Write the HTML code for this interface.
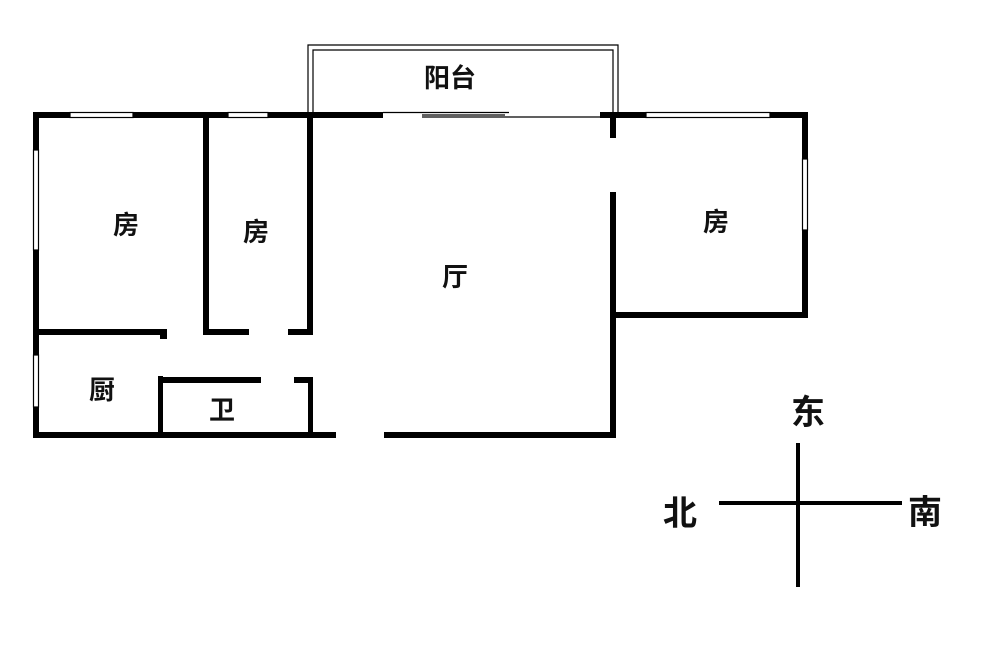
<!DOCTYPE html>
<html><head><meta charset="utf-8"><style>
html,body{margin:0;padding:0;background:#fff;}
svg{display:block;}
text{font-family:"Liberation Sans","Noto Sans CJK SC",sans-serif;fill:#111;text-anchor:middle;dominant-baseline:central;font-weight:bold;}
</style></head><body>
<svg width="1000" height="669" viewBox="0 0 1000 669">
<rect width="1000" height="669" fill="#fff"/>
<g fill="#000">
<rect x="33" y="112" width="350" height="6"/>
<rect x="600" y="112" width="207" height="6"/>
<rect x="610" y="112" width="6" height="26"/>
<rect x="33" y="112" width="6" height="326"/>
<rect x="203" y="112" width="6" height="223"/>
<rect x="307" y="112" width="6" height="223"/>
<rect x="33" y="329" width="134" height="6"/>
<rect x="160" y="329" width="7" height="10"/>
<rect x="203" y="329" width="46" height="6"/>
<rect x="288" y="329" width="25" height="6"/>
<rect x="158" y="376" width="5" height="60"/>
<rect x="158" y="377" width="103" height="6"/>
<rect x="294" y="377" width="19" height="6"/>
<rect x="308" y="377" width="5" height="59"/>
<rect x="33" y="432" width="303" height="6"/>
<rect x="384" y="432" width="232" height="6"/>
<rect x="610" y="192" width="6" height="246"/>
<rect x="802" y="112" width="6" height="206"/>
<rect x="610" y="312" width="198" height="6"/>
</g>
<g fill="#fff" stroke="#000" stroke-width="1.2">
<rect x="70" y="112.5" width="63" height="5"/>
<rect x="228" y="112.5" width="40" height="5"/>
<rect x="646" y="112.5" width="124" height="5"/>
<rect x="33.5" y="150" width="5" height="100"/>
<rect x="33.5" y="355" width="5" height="52"/>
<rect x="802.5" y="159" width="5" height="71"/>
</g>
<g stroke="#000" fill="none">
<line x1="383" y1="112.5" x2="509" y2="112.5" stroke-width="1.2"/>
<line x1="422" y1="117" x2="600" y2="117" stroke-width="1.2"/>
<line x1="422" y1="115" x2="505" y2="115" stroke-width="1.2"/>
<polyline points="308,112 308,45 618,45 618,112" stroke-width="1.2"/>
<polyline points="313,112 313,50 613,50 613,112" stroke-width="1.2"/>
</g>
<g font-size="26">
<text x="450" y="78">阳台</text>
<text x="126" y="225">房</text>
<text x="256" y="232">房</text>
<text x="455" y="277">厅</text>
<text x="716" y="222">房</text>
<text x="102" y="390">厨</text>
<text x="222" y="410">卫</text>
</g>
<g stroke="#000" stroke-width="4">
<line x1="798" y1="443" x2="798" y2="587"/>
<line x1="719" y1="503" x2="902" y2="503"/>
</g>
<g font-size="34">
<text x="808" y="413">东</text>
<text x="680" y="514">北</text>
<text x="925" y="513">南</text>
</g>
</svg>
</body></html>
